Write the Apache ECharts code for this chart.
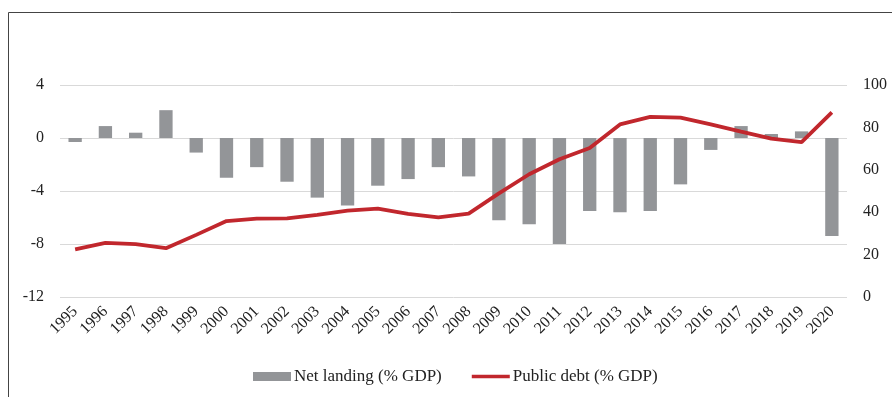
<!DOCTYPE html>
<html>
<head>
<meta charset="utf-8">
<script src="https://cdn.jsdelivr.net/npm/echarts@6/dist/echarts.min.js"></script>
<style>
html,body{margin:0;padding:0;background:#fff;}
#chart{width:892px;height:397px;}
</style>
</head>
<body>
<div id="chart"></div>
<script>
var years = ['1995','1996','1997','1998','1999','2000','2001','2002','2003','2004','2005','2006','2007','2008','2009','2010','2011','2012','2013','2014','2015','2016','2017','2018','2019','2020'];
var netLending = [-0.3,0.9,0.4,2.1,-1.1,-3.0,-2.2,-3.3,-4.5,-5.1,-3.6,-3.1,-2.2,-2.9,-6.2,-6.5,-8.0,-5.5,-5.6,-5.5,-3.5,-0.9,0.9,0.3,0.5,-7.4];
var publicDebt = [22.5,25.5,24.9,23.0,29.3,35.8,37.0,37.1,38.7,40.7,41.7,39.2,37.6,39.3,48.9,57.9,65.0,70.3,81.4,85.0,84.6,81.4,78.0,74.7,73.1,87.1];
var leftTicks = {min:-12, max:4, interval:4};
var rightTicks = {min:0, max:100, interval:20};

var chart = echarts.init(document.getElementById('chart'), null, {renderer:'canvas'});
var font = '"Liberation Serif", "Times New Roman", serif';
chart.setOption({
  animation: false,
  textStyle: {fontFamily: font},
  grid: {left: 60, right: 45, top: 85, bottom: 100},
  legend: {
    left: 248, top: 363,
    itemWidth: 38, itemHeight: 9, itemGap: 30,
    textStyle: {fontFamily: font, fontSize: 17, color: '#222', padding: [0,0,0,-2]},
    data: [
      {name: 'Net landing (% GDP)', icon: 'rect'},
      {name: 'Public debt (% GDP)', icon: 'path://M0,0 L41,0 L41,4 L0,4 Z'}
    ]
  },
  graphic: [{
    type: 'polyline', silent: true,
    shape: {points: [[8.5, 397], [8.5, 12.5], [892, 12.5]]},
    style: {stroke: '#444', lineWidth: 1, fill: null}
  }],
  xAxis: {
    type: 'category', data: years,
    axisLine: {show: false}, axisTick: {show: false},
    axisLabel: {rotate: 45, fontSize: 16, color: '#222', margin: 12, interval: 0, fontFamily: font}
  },
  yAxis: [{
    type: 'value', min: leftTicks.min, max: leftTicks.max, interval: leftTicks.interval,
    axisLine: {show: false}, axisTick: {show: false},
    axisLabel: {fontSize: 16, color: '#222', margin: 16, fontFamily: font},
    splitLine: {lineStyle: {color: '#d9d9d9', width: 1}}
  }, {
    type: 'value', min: rightTicks.min, max: rightTicks.max, interval: rightTicks.interval,
    axisLine: {show: false}, axisTick: {show: false},
    axisLabel: {fontSize: 16, color: '#222', margin: 16, fontFamily: font},
    splitLine: {show: false}
  }],
  series: [{
    name: 'Net landing (% GDP)', type: 'bar', data: netLending,
    barWidth: '44%', itemStyle: {color: '#939598'}
  }, {
    name: 'Public debt (% GDP)', type: 'line', yAxisIndex: 1, data: publicDebt,
    symbol: 'none', lineStyle: {color: '#C1272D', width: 3.8}, itemStyle: {color: '#C1272D'}
  }]
});
</script>
</body>
</html>
